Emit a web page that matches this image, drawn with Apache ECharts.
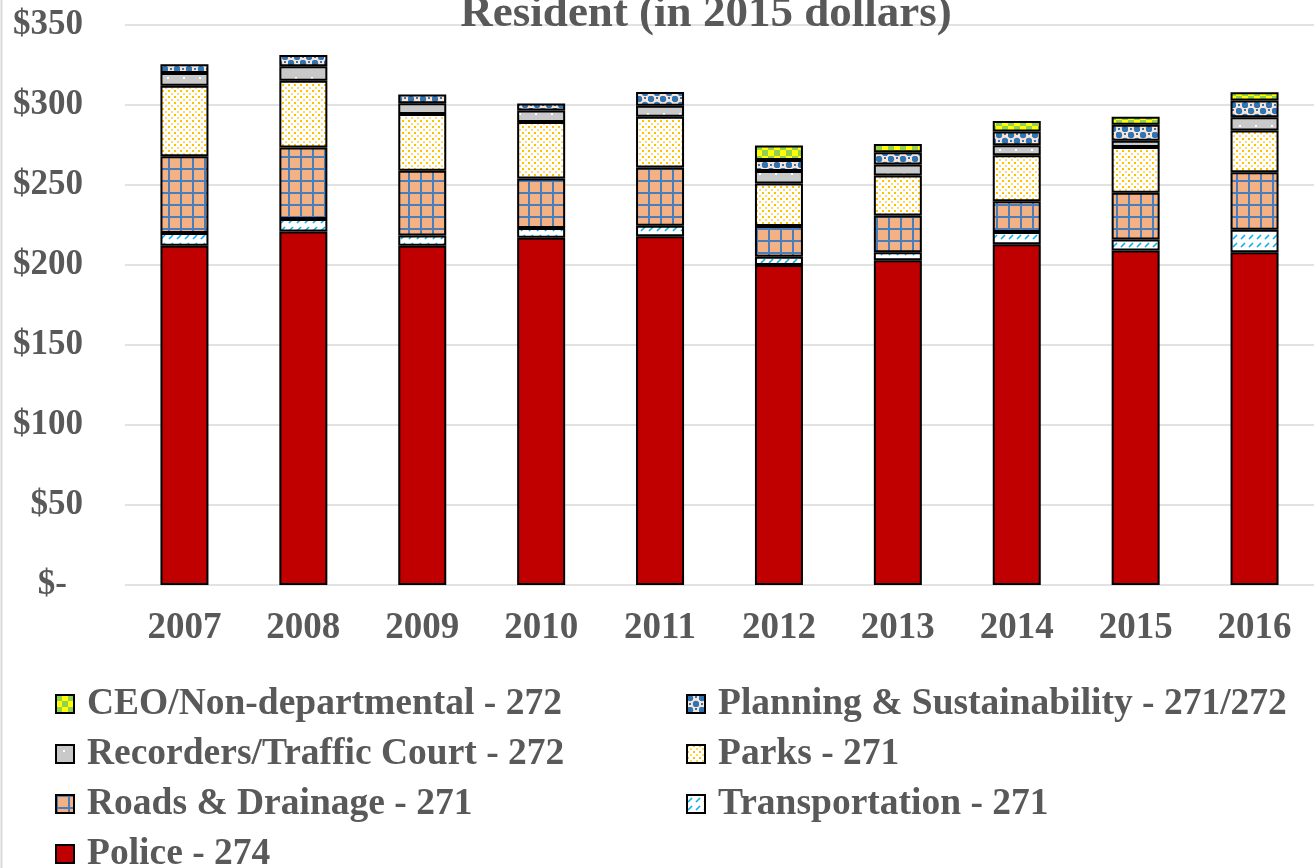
<!DOCTYPE html>
<html>
<head>
<meta charset="utf-8">
<script src="https://cdn.jsdelivr.net/npm/echarts@6/dist/echarts.min.js"></script>
<style>
  html, body { margin: 0; padding: 0; background: #fff; }
  #chart { width: 1314px; height: 868px; }
</style>
</head>
<body>
<div id="chart"></div>
<script>
// values, $ per resident (2015 dollars)
const years = ["2007", "2008", "2009", "2010", "2011", "2012", "2013", "2014", "2015", "2016"];
const police = [212, 221, 212, 217, 218, 200, 203, 213, 209, 208];
const transportation = [8, 7.7, 6.4, 6.2, 6.5, 5.2, 5, 7.7, 6.9, 14];
const roads = [48, 44.8, 40.5, 30.9, 36.4, 19.2, 22.9, 19.2, 29.2, 36];
const parks = [44, 41.7, 35.4, 35.2, 31.7, 26.6, 25, 28.7, 28.6, 26.1];
const recorders = [8, 9, 6.8, 7.3, 6.9, 7.7, 6.9, 6.3, 3.9, 8.3];
const planning = [5.5, 7, 5.5, 4.3, 8.6, 7, 7.6, 8.6, 10, 10.4];
const ceo = [null, null, null, null, null, 9, 5.2, 6.5, 5, 5.2];

const FONT = "Liberation Serif";
const GREY = "#595959";

// small canvas tiles used as fill patterns
function tile(w, h, draw) {
  const c = document.createElement("canvas");
  c.width = w;
  c.height = h;
  draw(c.getContext("2d"));
  return { image: c, repeat: "repeat" };
}

const patPolice = "#C00000";
const patTransport = tile(8, 8, (g) => {
  g.fillStyle = "#fff";
  g.fillRect(0, 0, 8, 8);
  g.strokeStyle = "#00B0F0";
  g.lineWidth = 1.6;
  g.beginPath();
  g.moveTo(1, 7);
  g.lineTo(5, 3);
  g.stroke();
});
const patRoads = tile(12, 12, (g) => {
  g.fillStyle = "#F4B183";
  g.fillRect(0, 0, 12, 12);
  g.fillStyle = "#4A7EBB";
  g.fillRect(0, 0, 2, 12);
  g.fillRect(0, 0, 12, 2);
});
const patParks = tile(6, 6, (g) => {
  g.fillStyle = "#fff";
  g.fillRect(0, 0, 6, 6);
  g.fillStyle = "#FFC000";
  g.fillRect(0, 0, 2, 2);
  g.fillStyle = "#FFD966";
  g.fillRect(3, 3, 2, 2);
});
const patRecorders = tile(16, 12, (g) => {
  g.fillStyle = "#C9C9C9";
  g.fillRect(0, 0, 16, 12);
  g.fillStyle = "#fff";
  g.fillRect(7, 5, 2, 2);
});
const patPlanning = tile(12, 12, (g) => {
  g.fillStyle = "#FBE5D6";
  g.fillRect(0, 0, 12, 12);
  g.fillStyle = "#2E75B6";
  g.beginPath();
  g.arc(3, 3, 3.2, 0, Math.PI * 2);
  g.arc(9, 9, 3.2, 0, Math.PI * 2);
  g.fill();
  g.fillRect(8, 1, 2, 2);
  g.fillRect(2, 8, 2, 2);
});
const patCeo = tile(12, 12, (g) => {
  g.fillStyle = "#FFFF00";
  g.fillRect(0, 0, 12, 12);
  g.fillStyle = "#92D050";
  g.fillRect(0, 0, 6, 6);
  g.fillRect(6, 6, 6, 6);
});

function bar(name, data, color) {
  return {
    name: name,
    type: "bar",
    stack: "total",
    barWidth: 48,
    data: data,
    itemStyle: { color: color, borderColor: "#000", borderWidth: 2 },
    emphasis: { disabled: true },
  };
}

const txt = { fontFamily: FONT, fontWeight: "bold", color: GREY, fontSize: 34 };

function legend(left, top, names) {
  return {
    orient: "vertical",
    left: left,
    top: top,
    icon: "rect",
    itemWidth: 18,
    itemHeight: 18,
    itemGap: 10,
    textStyle: Object.assign({}, txt, { fontSize: 37.5, lineHeight: 40, padding: [0, 0, 0, 8] }),
    data: names,
  };
}

const chart = echarts.init(document.getElementById("chart"));
chart.setOption({
  animation: false,
  grid: { left: 125, right: -6, top: 25, bottom: 283 },
  graphic: [
    {
      type: "text",
      x: 706,
      y: -8,
      style: {
        text: "Resident (in 2015 dollars)",
        font: "bold 45px 'Liberation Serif'",
        fill: GREY,
        textAlign: "center",
      },
      z: 10,
    },
    {
      type: "line",
      shape: { x1: 1.5, y1: 0, x2: 1.5, y2: 868 },
      style: { stroke: "#D9D9D9", lineWidth: 2 },
    },
  ],
  legend: [
    legend(50, 679, ["CEO/Non-departmental - 272", "Recorders/Traffic Court - 272", "Roads & Drainage - 271"]),
    legend(50, 829, ["Police - 274"]),
    legend(681, 679, ["Planning & Sustainability - 271/272", "Parks - 271", "Transportation - 271"]),
  ],
  xAxis: {
    type: "category",
    data: years,
    axisLine: { show: false },
    axisTick: { show: false },
    axisLabel: Object.assign({}, txt, { margin: 25, fontSize: 37 }),
  },
  yAxis: {
    type: "value",
    min: 0,
    max: 350,
    interval: 50,
    axisLine: { show: false },
    axisTick: { show: false },
    splitLine: { lineStyle: { color: "#D9D9D9", width: 1.5 } },
    axisLabel: Object.assign({}, txt, {
      margin: 42,
      fontSize: 35,
      formatter: (v) => (v === 0 ? "{z|$-}" : "$" + v),
      rich: { z: { fontFamily: FONT, fontWeight: "bold", color: GREY, fontSize: 35, padding: [0, 16, 0, 0] } },
    }),
  },
  series: [
    bar("Police - 274", police, patPolice),
    bar("Transportation - 271", transportation, patTransport),
    bar("Roads & Drainage - 271", roads, patRoads),
    bar("Parks - 271", parks, patParks),
    bar("Recorders/Traffic Court - 272", recorders, patRecorders),
    bar("Planning & Sustainability - 271/272", planning, patPlanning),
    bar("CEO/Non-departmental - 272", ceo, patCeo),
  ],
});
</script>
</body>
</html>
